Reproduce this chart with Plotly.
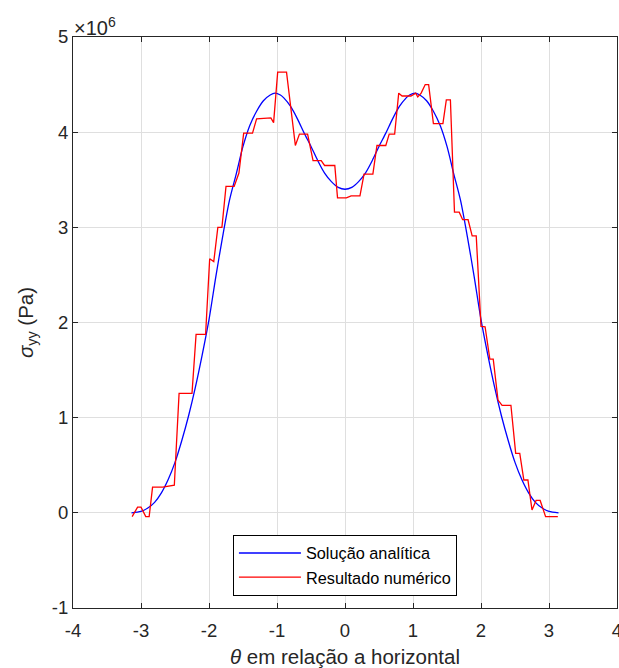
import plotly.graph_objects as go

# Analytic solution (values in units of 1e6 Pa)
x_analytic = [-3.14, -3.0, -2.9, -2.8, -2.7, -2.6, -2.5, -2.4, -2.3, -2.2, -2.1, -2.0,
              -1.9, -1.8, -1.7, -1.6, -1.5, -1.4, -1.3, -1.2, -1.1, -1.03, -0.95, -0.9,
              -0.8, -0.7, -0.6, -0.5, -0.4, -0.3, -0.2, -0.1, 0.0,
              0.1, 0.2, 0.3, 0.4, 0.5, 0.6, 0.7, 0.8, 0.9, 0.95, 1.03, 1.1, 1.2, 1.3,
              1.4, 1.5, 1.6, 1.7, 1.8, 1.9, 2.0, 2.1, 2.2, 2.3, 2.4, 2.5, 2.6, 2.7,
              2.8, 2.9, 3.0, 3.14]
y_analytic = [0.0, 0.015, 0.05, 0.11, 0.21, 0.35, 0.53, 0.76, 1.02, 1.32, 1.66, 2.03,
              2.48, 2.90, 3.28, 3.56, 3.85, 4.07, 4.22, 4.33, 4.39, 4.41, 4.39, 4.36,
              4.27, 4.14, 3.99, 3.85, 3.70, 3.57, 3.48, 3.42, 3.40,
              3.42, 3.48, 3.57, 3.70, 3.85, 3.99, 4.14, 4.27, 4.36, 4.39, 4.41, 4.39,
              4.33, 4.22, 4.07, 3.85, 3.56, 3.28, 2.90, 2.48, 2.03, 1.66, 1.32, 1.02,
              0.76, 0.53, 0.35, 0.21, 0.11, 0.05, 0.015, 0.0]

# Numerical result (values in units of 1e6 Pa)
x_numeric = [-3.13, -3.05, -3.00, -2.93, -2.88, -2.83, -2.68, -2.51, -2.44, -2.25,
             -2.19, -2.05, -1.99, -1.93, -1.87, -1.81, -1.75, -1.63, -1.56, -1.49,
             -1.36, -1.30, -1.09, -1.05, -0.99, -0.86, -0.73, -0.67, -0.55, -0.47,
             -0.35, -0.30, -0.15, -0.11, 0.02, 0.09, 0.22, 0.28, 0.41, 0.47,
             0.60, 0.65, 0.73, 0.79, 0.84, 0.97, 1.04, 1.07, 1.12, 1.18,
             1.23, 1.30, 1.44, 1.49, 1.55, 1.61, 1.68, 1.73, 1.81, 1.87,
             1.93, 2.00, 2.06, 2.13, 2.18, 2.25, 2.31, 2.44, 2.51, 2.57,
             2.63, 2.69, 2.75, 2.81, 2.87, 2.95, 3.13]
y_numeric = [-0.04, 0.06, 0.06, -0.04, -0.04, 0.27, 0.27, 0.29, 1.255, 1.255,
             1.875, 1.875, 2.67, 2.64, 3.00, 3.00, 3.43, 3.43, 3.57, 3.99,
             3.99, 4.14, 4.15, 4.10, 4.63, 4.63, 3.86, 3.98, 3.98, 3.70,
             3.70, 3.65, 3.65, 3.31, 3.31, 3.33, 3.33, 3.56, 3.56, 3.86,
             3.86, 3.98, 3.98, 4.41, 4.38, 4.38, 4.41, 4.37, 4.41, 4.50,
             4.50, 4.09, 4.09, 4.34, 4.34, 3.16, 3.16, 3.08, 3.08, 2.91,
             2.91, 1.96, 1.955, 1.615, 1.615, 1.185, 1.13, 1.13, 0.625, 0.625,
             0.345, 0.345, 0.03, 0.13, 0.13, -0.04, -0.04]

x_ticks = [-4, -3, -2, -1, 0, 1, 2, 3, 4]
y_ticks = [-1, 0, 1, 2, 3, 4, 5]
scale = 1e6

FONT = "Liberation Sans, Arial, Helvetica, sans-serif"
AXC = "#262626"
GRID = "#dfdfdf"

fig = go.Figure()
fig.add_trace(go.Scatter(
    x=x_analytic, y=[v * scale for v in y_analytic], mode="lines",
    line=dict(color="#0000ff", width=1.3, shape="spline", smoothing=0.8),
    name="Solução analítica"))
fig.add_trace(go.Scatter(
    x=x_numeric, y=[v * scale for v in y_numeric], mode="lines",
    line=dict(color="#ff0000", width=1.3),
    name="Resultado numérico"))

fig.update_layout(
    width=619, height=668,
    margin=dict(l=73, r=2, t=37, b=60),
    paper_bgcolor="white", plot_bgcolor="white",
    font=dict(family=FONT, color=AXC, size=18.5),
    showlegend=True,
    legend=dict(
        x=0.294, y=0.128, xanchor="left", yanchor="top",
        bgcolor="white", bordercolor="#000000", borderwidth=1,
        font=dict(family=FONT, size=16.3, color="#000000"),
        itemwidth=62, tracegroupgap=0,
    ),
    xaxis=dict(
        range=[-4, 4], tickvals=x_ticks, ticktext=[str(t) for t in x_ticks],
        showgrid=True, gridcolor=GRID, gridwidth=1, zeroline=False,
        showline=True, linecolor=AXC, linewidth=1, mirror="ticks",
        ticks="inside", ticklen=5, tickcolor=AXC, automargin=False,
        ticklabeloverflow="allow", ticklabelstandoff=6,
        tickfont=dict(family=FONT, size=18.5, color=AXC),
        title=dict(text="<i>θ</i> em relação a horizontal",
                   font=dict(family=FONT, size=20.5, color=AXC), standoff=10),
    ),
    yaxis=dict(
        range=[-1 * scale, 5 * scale], tickvals=[t * scale for t in y_ticks],
        ticktext=[str(t) for t in y_ticks],
        showgrid=True, gridcolor=GRID, gridwidth=1, zeroline=False,
        showline=True, linecolor=AXC, linewidth=1, mirror="ticks",
        ticks="inside", ticklen=5, tickcolor=AXC, automargin=False,
        ticklabeloverflow="allow",
        tickfont=dict(family=FONT, size=18.5, color=AXC),
        title=dict(text="<i>σ</i><sub>yy</sub> (Pa)",
                   font=dict(family=FONT, size=20.5, color=AXC), standoff=12),
    ),
    annotations=[dict(
        text="×10<sup>6</sup>", xref="paper", yref="paper", x=0.0, y=1.0,
        xanchor="left", yanchor="bottom", showarrow=False,
        font=dict(family=FONT, size=20, color=AXC), xshift=-1, yshift=-4)],
)

fig.write_html("out.html")
